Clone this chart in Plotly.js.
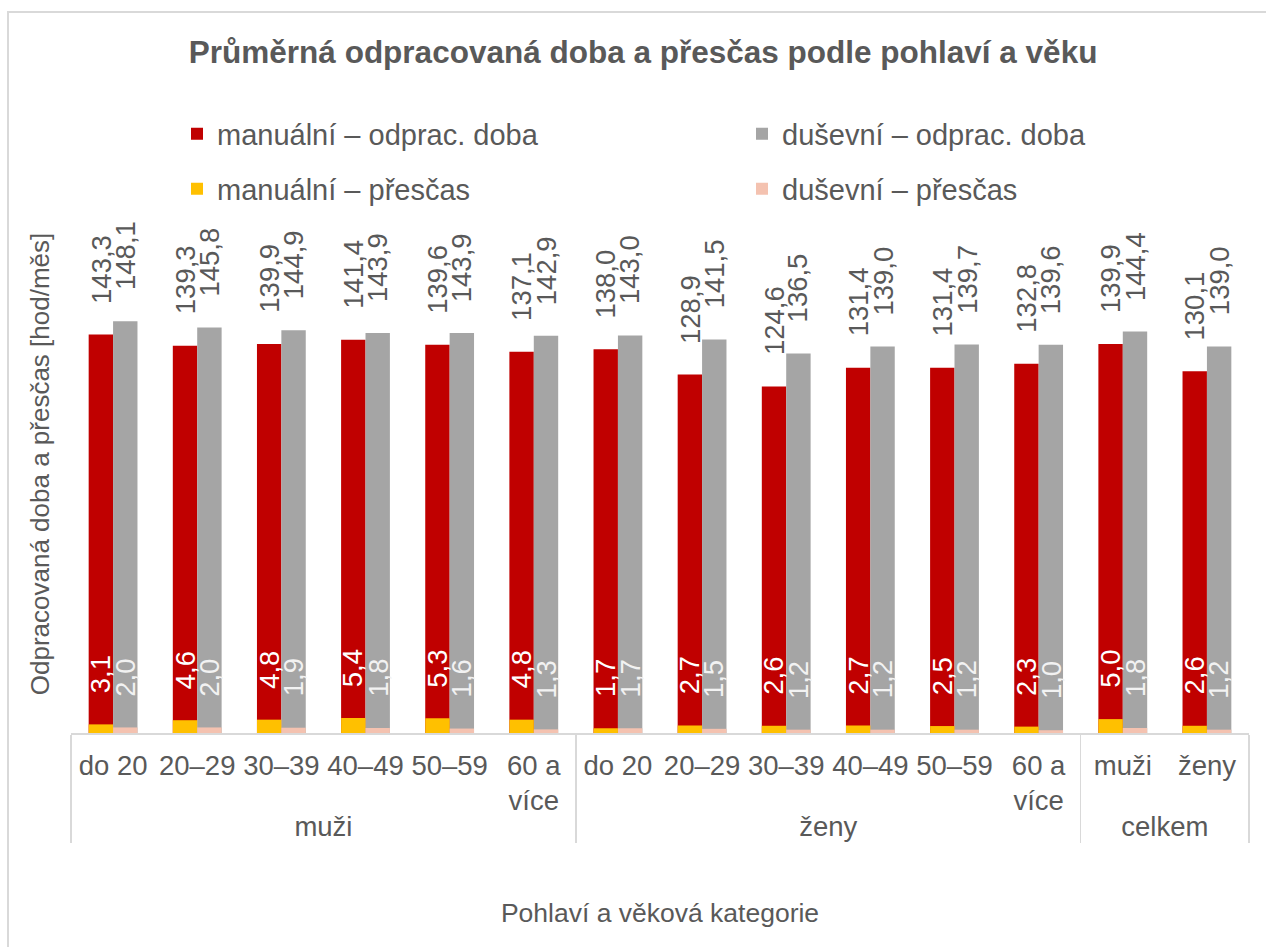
<!DOCTYPE html>
<html><head><meta charset="utf-8">
<script src="https://cdn.plot.ly/plotly-3.0.1.min.js"></script>
<style>
html,body{margin:0;padding:0;background:#fff;overflow:hidden}
#chart{width:1266px;height:947px}
#frame{position:absolute;left:7px;top:11px;width:1300px;height:1000px;border:2px solid #d9d9d9;pointer-events:none}
</style>
</head><body><div id="chart"></div><div id="frame"></div>
<script>
const groups = ['muži','muži','muži','muži','muži','muži','ženy','ženy','ženy','ženy','ženy','ženy','celkem','celkem'];
const ages = ['do 20','20–29','30–39','40–49','50–59','60 a<br>více','do 20','20–29','30–39','40–49','50–59','60 a<br>více','muži','ženy'];
const manualWork = [143.3,139.3,139.9,141.4,139.6,137.1,138.0,128.9,124.6,131.4,131.4,132.8,139.9,130.1];
const mentalWork = [148.1,145.8,144.9,143.9,143.9,142.9,143.0,141.5,136.5,139.0,139.7,139.6,144.4,139.0];
const manualOver = [3.1,4.6,4.8,5.4,5.3,4.8,1.7,2.7,2.6,2.7,2.5,2.3,5.0,2.6];
const mentalOver = [2.0,2.0,1.9,1.8,1.6,1.3,1.7,1.5,1.2,1.2,1.2,1.0,1.8,1.2];
const seriesNames = ['manuální – odprac. doba','duševní – odprac. doba','manuální – přesčas','duševní – přesčas'];

const FONT = 'Liberation Sans, Arial, sans-serif';
const TXT = '#595959';
const W = 0.29;
const x = [groups, ages];

function bar(name, y, color, off, legend) {
  return {type:'bar', name, x, y, width:W, offset:off, legend,
    marker:{color, line:{width:0}}, hoverinfo:'y'};
}
const data = [
  bar(seriesNames[0], manualWork, '#C00000', -W, 'legend'),
  bar(seriesNames[1], mentalWork, '#A5A5A5', 0, 'legend2'),
  bar(seriesNames[2], manualOver, '#FFC000', -W, 'legend3'),
  bar(seriesNames[3], mentalOver, '#F4C2B0', 0, 'legend4')
];

const fmt = v => v.toFixed(1).replace('.', ',');
const annotations = [];
function addLabels(vals, dx, color) {
  vals.forEach((v, i) => annotations.push({
    xref:'x', yref:'y', x:i+dx, y:v, text:fmt(v), textangle:-90,
    showarrow:false, xanchor:'center', yanchor:'bottom', yshift:29,
    font:{family:FONT, size:27.5, color}
  }));
}
addLabels(manualWork, -W/2, TXT);
addLabels(mentalWork, W/2, TXT);
addLabels(manualOver, -W/2, '#ffffff');
addLabels(mentalOver, W/2, '#f2f2f2');

function leg(xpx, ypx) {
  return {orientation:'h', xanchor:'left', yanchor:'middle',
    x:(xpx-71)/1178, y:1+(195-ypx)/538, bgcolor:'rgba(0,0,0,0)',
    font:{family:FONT, size:29, color:TXT}};
}

const layout = {
  width:1266, height:947,
  margin:{l:71, r:17, t:195, b:214},
  paper_bgcolor:'#ffffff', plot_bgcolor:'#ffffff',
  font:{family:FONT, color:TXT},
  barmode:'overlay',
  showlegend:true,
  title:{text:'Průměrná odpracovaná doba a přesčas podle pohlaví a věku',
    xref:'container', x:0.508, xanchor:'center', yref:'container', y:1-52/947, yanchor:'middle',
    font:{family:FONT, size:31.5, color:TXT, weight:'bold'}},
  xaxis:{type:'multicategory', showline:true, linecolor:'#d9d9d9', linewidth:1.5,
    tickangle:0, ticks:'', ticklabelstandoff:7, showgrid:false, zeroline:false,
    showdividers:true, dividercolor:'#d9d9d9', dividerwidth:1.5,
    tickfont:{family:FONT, size:27.5, color:TXT},
    title:{text:'Pohlaví a věková kategorie', standoff:62, font:{family:FONT, size:26.5, color:TXT}}},
  yaxis:{range:[0,193.5], showticklabels:false, showgrid:false, zeroline:false, showline:false, ticks:'',
    title:{text:'Odpracovaná doba a přesčas [hod/měs]', standoff:12, font:{family:FONT, size:26, color:TXT}}},
  legend:leg(177,134),
  legend2:leg(742,134),
  legend3:leg(177,189),
  legend4:leg(742,189),
  annotations
};

Plotly.newPlot('chart', data, layout, {displayModeBar:false, staticPlot:true});
</script></body></html>
